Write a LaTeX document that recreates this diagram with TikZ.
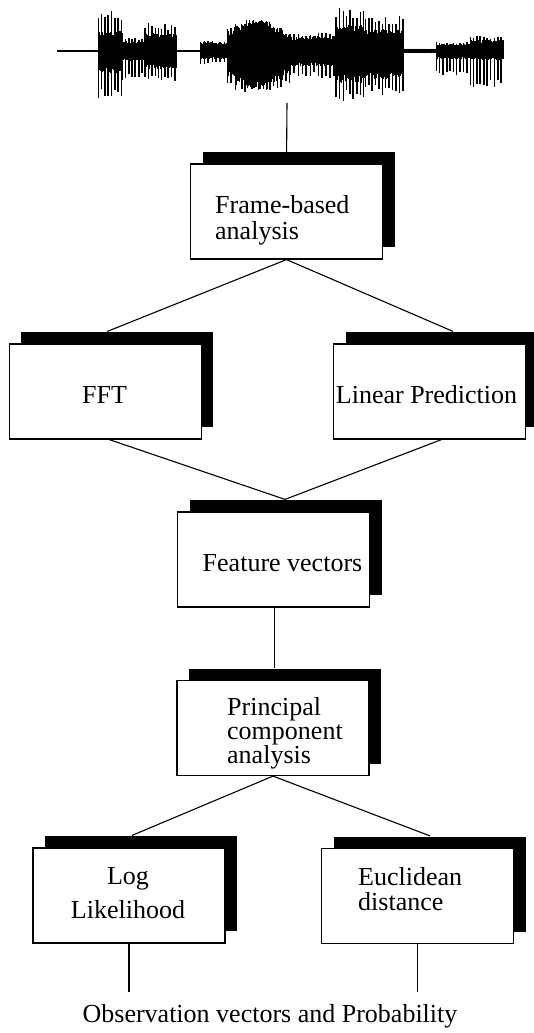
\documentclass[tikz,border=0pt]{standalone}
\usepackage{fontspec}
\setmainfont{Liberation Serif}
\usetikzlibrary{shadows,backgrounds,calc}
\newcommand\wseg[7]{%
  \pgfmathtruncatemacro\wn{(#2-#1)/0.6}%
  \foreach \i in {0,...,\wn}{%
    \pgfmathsetmacro\wx{#1+0.6*\i}%
    \pgfmathsetmacro\wu{#3*(0.75+0.25*rnd)}%
    \pgfmathsetmacro\wd{#4*(0.75+0.25*rnd)}%
    \draw[wavebody] (\wx,51-\wu) -- (\wx,51+\wd);
  }%
  \ifdim #5pt>0pt
  \pgfmathtruncatemacro\wm{(#2-#1)/#7}%
  \foreach \i in {0,...,\wm}{%
    \pgfmathsetmacro\wx{#1+#7*\i+0.6*rnd}%
    \pgfmathsetmacro\wu{#5*(0.75+0.25*rnd)}%
    \pgfmathsetmacro\wd{#6*(0.75+0.25*rnd)}%
    \draw[wavespike] (\wx,51-\wu) -- (\wx,51+\wd);
  }\fi
}
\begin{document}
\begin{tikzpicture}[x=1pt,y=-1pt,
  shbox/.style={draw,line width=1.2pt,fill=white,minimum width=192pt,minimum height=95pt,inner sep=0pt,
     general shadow={fill=black,shadow xshift=12pt,shadow yshift=12pt}},
  txt/.style={inner sep=0pt,font=\rmfamily\fontsize{26}{26}\selectfont},
  conn/.style={line width=1.1pt},
  wavebody/.style={line width=1pt},
  wavespike/.style={line width=1.7pt}]
\useasboundingbox (0,0) rectangle (533,1033);
\pgfmathsetseed{11}
% speech waveform
\wseg{57}{98}{1.2}{1.2}{0}{0}{4}
\wseg{98}{122}{20}{22}{41}{50}{3.3}
\wseg{122}{145}{10}{10}{14}{29}{3.3}
\wseg{145}{177}{18}{18}{28}{33}{3.3}
\wseg{177}{200}{1.2}{1.2}{0}{0}{4}
\wseg{200}{227}{9}{8}{11}{14}{4}
\wseg{227}{235}{20}{26}{24}{32}{3.5}
\wseg{235}{245}{27}{35}{30}{40}{3.5}
\wseg{245}{270}{31}{39}{33}{43}{3.5}
\wseg{270}{282}{25}{32}{28}{38}{3.5}
\wseg{282}{290}{18}{24}{22}{32}{3.5}
\wseg{290}{336}{15}{15}{18}{27}{4}
\wseg{336}{365}{26}{32}{43}{51}{3.4}
\wseg{365}{403}{22}{28}{35}{45}{3.4}
\wseg{403}{436}{2.5}{2.5}{0}{0}{4}
\wseg{436}{470}{7}{8}{9}{24}{3.4}
\wseg{470}{503}{11}{9}{16}{36}{3.4}
\coordinate (wave) at (287,103);
% boxes
\node[shbox] (frame) at (286.5,211.5) {};
\node[shbox] (fft) at (105.3,391.5) {};
\node[shbox] (lp) at (429.5,391.5) {};
\node[shbox] (feat) at (273.5,559.5) {};
\node[shbox] (pca) at (273,728) {};
\node[shbox] (loglik) at (129,895.5) {};
\node[shbox] (eucl) at (417.5,896) {};
\coordinate (obsL) at (129,992);
\coordinate (obsR) at (417.5,992);
% texts
\node[txt,anchor=base west,text width=170pt,align=left] (frametxt) at (215,213) {Frame-based\\analysis};
\node[txt,anchor=base] (ffttxt) at (104.5,403) {FFT};
\node[txt,anchor=base] (lptxt) at (426.5,403) {Linear Prediction};
\node[txt,anchor=base] (feattxt) at (282.5,571) {Feature vectors};
\node[txt,anchor=base west,text width=170pt,align=left,font=\rmfamily\fontsize{26}{24}\selectfont] (pcatxt) at (227,715) {Principal\\component\\analysis};
\node[txt,anchor=base,text width=180pt,align=center,font=\rmfamily\fontsize{26}{34}\selectfont] (logtxt) at (128,884) {Log\\Likelihood\hspace*{26pt}};
\node[txt,anchor=base west,text width=150pt,align=left,font=\rmfamily\fontsize{26}{25}\selectfont] (euctxt) at (358,885) {Euclidean\\distance};
\node[txt,anchor=base] (obstxt) at (270,1022) {Observation vectors and Probability};
% connectors
\begin{scope}[on background layer]
\draw[conn] (wave) -- (frame.north);
\draw[conn] (frame.south) -- ($(fft.north)+(2,-12)$);
\draw[conn] (frame.south) -- ($(lp.north)+(23.5,-12)$);
\draw[conn] ($(fft.south)+(4,0)$) -- ($(feat.north)+(11.5,-12)$);
\draw[conn] ($(lp.south)+(12,0)$) -- ($(feat.north)+(11.5,-12)$);
\draw[conn] ($(feat.south)+(1,0)$) -- ($(pca.north)+(1.5,-12)$);
\draw[conn] (pca.south) -- ($(loglik.north)+(3,-12)$);
\draw[conn] (pca.south) -- ($(eucl.north)+(12.5,-12)$);
\draw[conn] (loglik.south) -- (obsL);
\draw[conn] (eucl.south) -- (obsR);
\end{scope}
\end{tikzpicture}
\end{document}
